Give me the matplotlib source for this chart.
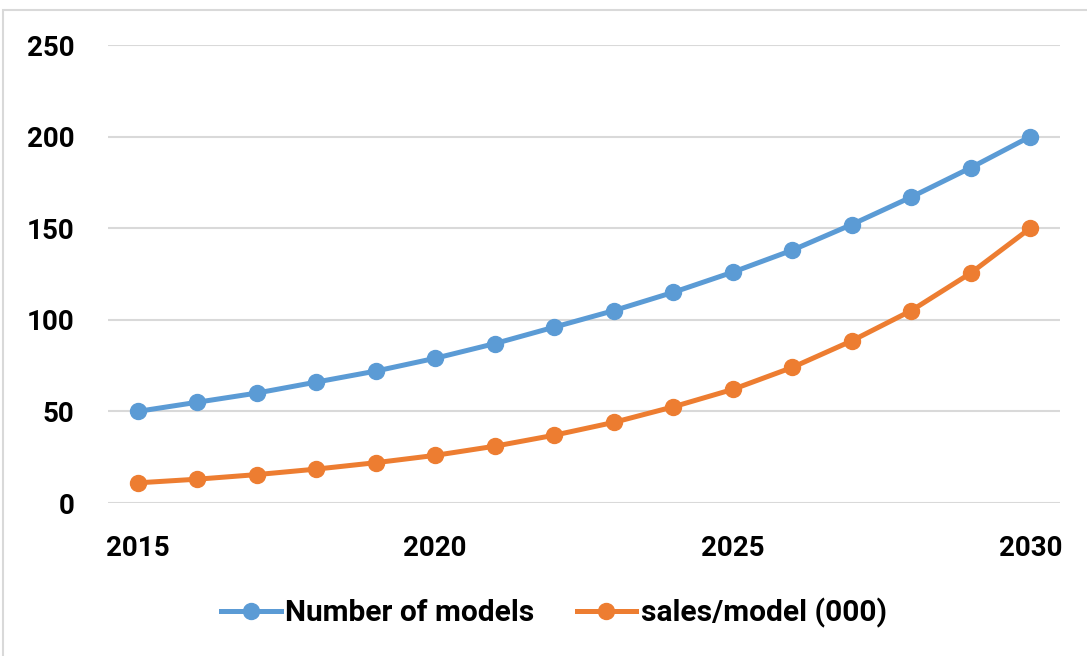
import matplotlib
matplotlib.use("Agg")
import matplotlib.pyplot as plt
from matplotlib.patches import Rectangle

years = list(range(2015, 2031))
num_models = [50, 55, 60, 66, 72, 79, 87, 96, 105, 115, 126, 138, 152, 167, 183, 200]
sales_per_model = [11, 13, 15.5, 18.5, 22, 26, 31, 37, 44, 52.5, 62, 74, 88.5, 105, 125.5, 150]
x_ticks = [2015, 2020, 2025, 2030]
y_ticks = [0, 50, 100, 150, 200, 250]
series_names = ["Number of models", "sales/model (000)"]

plt.rcParams['font.family'] = ['Roboto', 'DejaVu Sans']
plt.rcParams['font.weight'] = 'bold'

fig = plt.figure(figsize=(10.87, 6.56), dpi=100)
fig.patches.append(Rectangle((3/1087, -0.01), 1.0, 1 - 10/656 + 0.01, transform=fig.transFigure,
                             fill=False, edgecolor='#D9D9D9', linewidth=1.5))
ax = fig.add_axes([108/1087, 1 - 503/656, (1060-108)/1087, (503-45)/656])

ax.plot(years, num_models, color='#5B9BD5', lw=3.6, marker='o', ms=11.5, label=series_names[0], zorder=3)
ax.plot(years, sales_per_model, color='#ED7D31', lw=3.6, marker='o', ms=11.5, label=series_names[1], zorder=3)

ax.set_xlim(2014.5, 2030.5)
ax.set_ylim(0, 250)
ax.set_xticks(x_ticks)
ax.set_yticks(y_ticks)
ax.grid(axis='y', color='#D9D9D9', lw=1.5)
ax.set_axisbelow(True)
for s in ax.spines.values():
    s.set_visible(False)
ax.tick_params(length=0, labelsize=20)
ax.tick_params(axis='y', pad=24)
ax.tick_params(axis='x', pad=23)
for lab in ax.get_xticklabels() + ax.get_yticklabels():
    lab.set_fontweight('bold')

fig.legend(loc='center', bbox_to_anchor=(554/1087, 1 - 613/656), ncol=2, frameon=False,
           prop={'size': 21.5, 'weight': 'bold'}, handlelength=2.0, handletextpad=0.15,
           columnspacing=1.4)

fig.savefig('out.png', dpi=100)
